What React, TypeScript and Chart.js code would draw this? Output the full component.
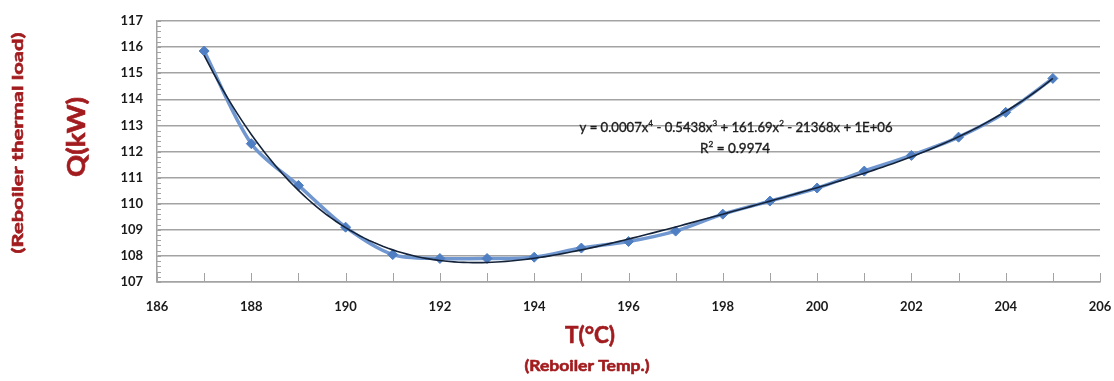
import React, { useEffect, useRef } from "react";
import { Chart, registerables } from "chart.js";

Chart.register(...registerables);

// ---- data ----
const temps: number[] = [187, 188, 189, 190, 191, 192, 193, 194, 195, 196, 197, 198, 199, 200, 201, 202, 203, 204, 205];
const loads: number[] = [115.85, 112.3, 110.7, 109.1, 108.05, 107.9, 107.9, 107.95, 108.3, 108.55, 108.95, 109.6, 110.1, 110.6, 111.25, 111.85, 112.55, 113.5, 114.8];
const xTickValues: number[] = [186, 188, 190, 192, 194, 196, 198, 200, 202, 204, 206];
const yMin = 107;
const yMax = 117;
const xMin = 186;
const xMax = 206;

const equationSegments: [string, boolean][] = [
  ["y = 0.0007x", false], ["4", true], [" - 0.5438x", false], ["3", true],
  [" + 161.69x", false], ["2", true], [" - 21368x + 1E+06", false],
];
const r2Segments: [string, boolean][] = [["R", false], ["2", true], [" = 0.9974", false]];

const yTitle1 = "Q(kW)";
const yTitle2 = "(Reboiler thermal load)";
const xTitle1 = "T(°C)";
const xTitle2 = "(Reboiler Temp.)";

const TITLE_RED = "#A21C1F";
const GRID = "#A3A3A3";

// least-squares quartic trendline (as the spreadsheet's polynomial trendline)
function fitQuartic(xs: number[], ys: number[]) {
  const c = 196, s = 9, n = 5;
  const A: number[][] = Array.from({ length: n }, () => new Array(n + 1).fill(0));
  xs.forEach((x, i) => {
    const t = (x - c) / s;
    const p: number[] = [];
    for (let k = 0; k < n; k++) p.push(Math.pow(t, k));
    for (let r = 0; r < n; r++) {
      for (let q = 0; q < n; q++) A[r][q] += p[r] * p[q];
      A[r][n] += p[r] * ys[i];
    }
  });
  for (let i = 0; i < n; i++) {
    let m = i;
    for (let r = i + 1; r < n; r++) if (Math.abs(A[r][i]) > Math.abs(A[m][i])) m = r;
    [A[i], A[m]] = [A[m], A[i]];
    for (let r = 0; r < n; r++) {
      if (r === i) continue;
      const f = A[r][i] / A[i][i];
      for (let q = i; q <= n; q++) A[r][q] -= f * A[i][q];
    }
  }
  const coef = A.map((row, i) => row[n] / row[i]);
  return (x: number) => {
    const t = (x - c) / s;
    let v = 0;
    for (let k = n - 1; k >= 0; k--) v = v * t + coef[k];
    return v;
  };
}

function drawRich(ctx: CanvasRenderingContext2D, segs: [string, boolean][], cx: number, cy: number, targetW: number, size: number, color: string) {
  const fontMain = `${size}px Lato, "Open Sans", sans-serif`;
  const fontSup = `${Math.round(size * 0.65)}px Lato, "Open Sans", sans-serif`;
  let w = 0;
  segs.forEach(([t, sup]) => { ctx.font = sup ? fontSup : fontMain; w += ctx.measureText(t).width; });
  const k = targetW / w;
  ctx.save();
  ctx.translate(cx - targetW / 2, cy);
  ctx.scale(k, 1);
  ctx.fillStyle = color;
  ctx.strokeStyle = color;
  ctx.lineWidth = 0.35;
  ctx.textBaseline = "middle";
  ctx.textAlign = "left";
  let x = 0;
  segs.forEach(([t, sup]) => {
    ctx.font = sup ? fontSup : fontMain;
    const y = sup ? -size * 0.38 : 0;
    ctx.fillText(t, x, y);
    ctx.strokeText(t, x, y);
    x += ctx.measureText(t).width;
  });
  ctx.restore();
}

function drawFitted(ctx: CanvasRenderingContext2D, text: string, font: string, cx: number, cy: number, targetW: number, rot: number, color: string) {
  ctx.save();
  ctx.font = font;
  const w = ctx.measureText(text).width;
  ctx.translate(cx, cy);
  ctx.rotate(rot);
  ctx.scale(targetW / w, 1);
  ctx.fillStyle = color;
  ctx.strokeStyle = color;
  ctx.lineWidth = 0.6;
  ctx.textAlign = "center";
  ctx.textBaseline = "middle";
  ctx.fillText(text, 0, 0);
  ctx.strokeText(text, 0, 0);
  ctx.restore();
}

const decorPlugin = {
  id: "decor",
  afterDatasetsDraw(chart: any) {
    const ctx: CanvasRenderingContext2D = chart.ctx;
    const xs = chart.scales.x, ys = chart.scales.y;
    const area = chart.chartArea;
    ctx.save();
    ctx.strokeStyle = GRID;
    ctx.lineWidth = 1;
    // inward major ticks on x axis
    for (let v = xMin; v <= xMax; v++) {
      const px = Math.round(xs.getPixelForValue(v)) + 0.5;
      ctx.beginPath();
      ctx.moveTo(px, area.bottom);
      ctx.lineTo(px, area.bottom - 9);
      ctx.stroke();
    }
    // inward minor ticks on y axis
    for (let i = 0; i <= (yMax - yMin) * 5; i++) {
      const v = yMin + i * 0.2;
      const py = Math.round(ys.getPixelForValue(v)) + 0.5;
      ctx.beginPath();
      ctx.moveTo(area.left, py);
      ctx.lineTo(area.left + 4, py);
      ctx.stroke();
    }
    ctx.restore();

    drawRich(ctx, equationSegments, 736, 128, 313, 13, "#1c1c1c");
    drawRich(ctx, r2Segments, 735, 149, 70, 13, "#1c1c1c");

    drawFitted(ctx, yTitle1, 'bold 24px Lato, "Open Sans", sans-serif', 77, 137, 80, -Math.PI / 2, TITLE_RED);
    drawFitted(ctx, yTitle2, 'bold 16px Lato, "Open Sans", sans-serif', 18, 143, 221, -Math.PI / 2, TITLE_RED);
    drawFitted(ctx, xTitle1, 'bold 22px Lato, "Open Sans", sans-serif', 590, 336, 50, 0, TITLE_RED);
    drawFitted(ctx, xTitle2, 'bold 16px Lato, "Open Sans", sans-serif', 587, 366, 125, 0, TITLE_RED);
  },
};

export default function App() {
  const ref = useRef<HTMLCanvasElement | null>(null);
  useEffect(() => {
    if (!ref.current) return;
    const trend = fitQuartic(temps, loads);
    const trendPts: { x: number; y: number }[] = [];
    for (let i = 0; i <= (temps[temps.length - 1] - temps[0]) * 10; i++) {
      const x = temps[0] + i / 10;
      trendPts.push({ x, y: trend(x) });
    }
    const chart = new Chart(ref.current, {
      type: "scatter",
      data: {
        datasets: [
          {
            label: "Q",
            data: temps.map((t, i) => ({ x: t, y: loads[i] })),
            showLine: true,
            borderColor: "#7097CF",
            borderWidth: 3.5,
            tension: 0.3,
            pointStyle: "rectRot",
            pointRadius: 5,
            pointBackgroundColor: "#4F7FC2",
            pointBorderColor: "#4F7FC2",
            pointBorderWidth: 1,
            order: 2,
          },
          {
            label: "trend",
            data: trendPts,
            showLine: true,
            borderColor: "#14233A",
            borderWidth: 1.6,
            pointRadius: 0,
            tension: 0,
            order: 1,
          },
        ],
      },
      options: {
        responsive: false,
        animation: false,
        events: [],
        layout: { padding: { left: 0, right: 14, top: 21, bottom: 0 } },
        plugins: { legend: { display: false }, tooltip: { enabled: false }, title: { display: false } },
        scales: {
          x: {
            type: "linear",
            min: xMin,
            max: xMax,
            afterFit: (s: any) => { s.height = 99; s.paddingLeft = 0; s.paddingRight = 0; },
            afterBuildTicks: (s: any) => { s.ticks = xTickValues.map((v) => ({ value: v })); },
            grid: { display: false, drawTicks: false },
            border: { display: true, color: GRID, width: 1.5 },
            ticks: {
              padding: 17,
              color: "#1a1a1a",
              font: { family: "Lato, 'Open Sans', sans-serif", size: 13, weight: "bold" },
              maxRotation: 0,
              autoSkip: false,
            },
          },
          y: {
            min: yMin,
            max: yMax,
            afterFit: (s: any) => { s.width = 157; s.paddingTop = 0; s.paddingBottom = 0; },
            grid: { color: GRID, lineWidth: 1.5, drawTicks: false },
            border: { display: true, color: GRID, width: 1.5 },
            ticks: {
              stepSize: 1,
              padding: 14,
              color: "#1a1a1a",
              font: { family: "Lato, 'Open Sans', sans-serif", size: 13, weight: "bold" },
            },
          },
        },
      },
      plugins: [decorPlugin],
    } as any);
    return () => chart.destroy();
  }, []);
  return (
    <div style={{ position: "absolute", left: 0, top: 0, width: 1114, height: 381, background: "#fff" }}>
      <canvas ref={ref} width={1114} height={381} style={{ display: "block", width: 1114, height: 381 }} />
    </div>
  );
}
